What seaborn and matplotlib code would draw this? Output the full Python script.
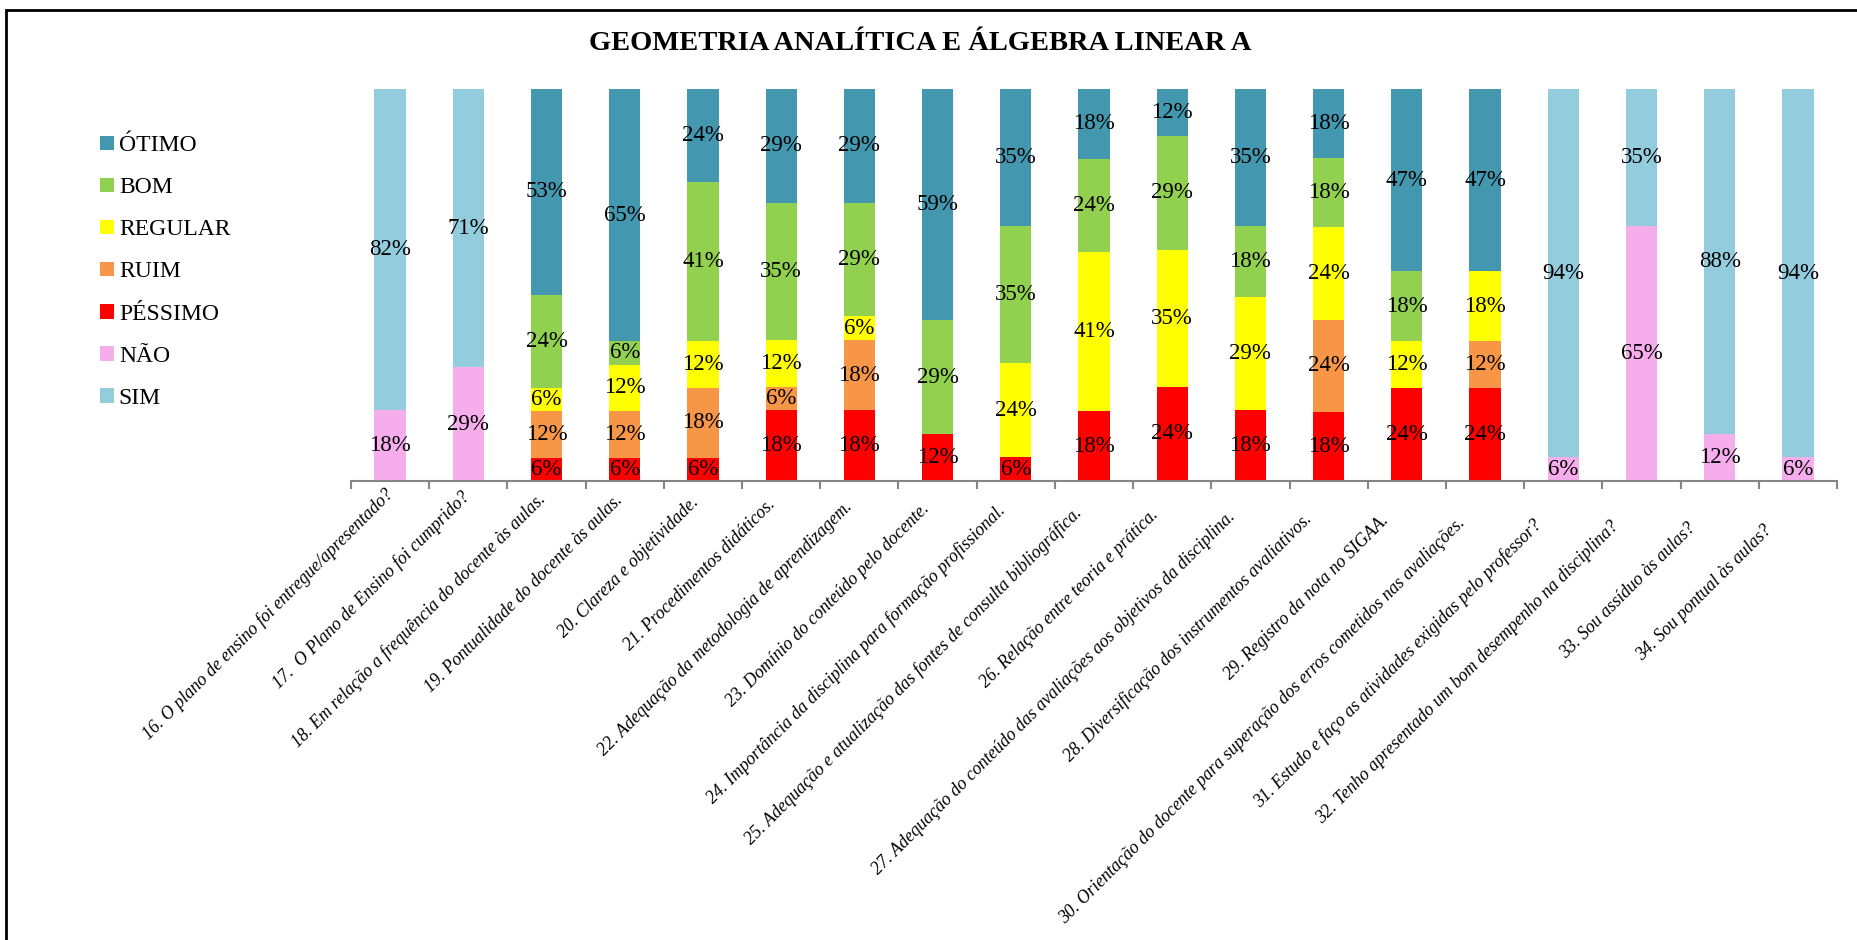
import numpy as np
import pandas as pd
import matplotlib
matplotlib.use("Agg")
import matplotlib.pyplot as plt
from matplotlib.patches import Rectangle, Patch
from matplotlib.transforms import ScaledTranslation
import seaborn as sns

# Questions (x categories)
questions = [
    "16. O plano de ensino foi entregue/apresentado?",
    "17.  O Plano de Ensino foi cumprido?",
    "18. Em relação a frequência do docente às aulas.",
    "19. Pontualidade do docente às aulas.",
    "20. Clareza e objetividade.",
    "21. Procedimentos didáticos.",
    "22. Adequação da metodologia de aprendizagem.",
    "23. Domínio do conteúdo pelo docente.",
    "24. Importância da disciplina para formação profissional.",
    "25. Adequação e atualização das fontes de consulta bibliográfica.",
    "26. Relação entre teoria e prática.",
    "27. Adequação do conteúdo das avaliações aos objetivos da disciplina.",
    "28. Diversificação dos instrumentos avaliativos.",
    "29. Registro da nota no SIGAA.",
    "30. Orientação do docente para superação dos erros cometidos nas avaliações.",
    "31. Estudo e faço as atividades exigidas pelo professor?",
    "32. Tenho apresentado um bom desempenho na disciplina?",
    "33. Sou assíduo às aulas?",
    "34. Sou pontual às aulas?",
]

# Answer shares (%) per question, one list per response option
nao     = [18, 29, 0, 0, 0, 0, 0, 0, 0, 0, 0, 0, 0, 0, 0, 6, 65, 12, 6]
pessimo = [0, 0, 6, 6, 6, 18, 18, 12, 6, 18, 24, 18, 18, 24, 24, 0, 0, 0, 0]
ruim    = [0, 0, 12, 12, 18, 6, 18, 0, 0, 0, 0, 0, 24, 0, 12, 0, 0, 0, 0]
regular = [0, 0, 6, 12, 12, 12, 6, 0, 24, 41, 35, 29, 24, 12, 18, 0, 0, 0, 0]
bom     = [0, 0, 24, 6, 41, 35, 29, 29, 35, 24, 29, 18, 18, 18, 0, 0, 0, 0, 0]
otimo   = [0, 0, 53, 65, 24, 29, 29, 59, 35, 18, 12, 35, 18, 47, 47, 0, 0, 0, 0]
sim     = [82, 71, 0, 0, 0, 0, 0, 0, 0, 0, 0, 0, 0, 0, 0, 94, 35, 88, 94]

series_names = ["NÃO", "PÉSSIMO", "RUIM", "REGULAR", "BOM", "ÓTIMO", "SIM"]
series_vals = [nao, pessimo, ruim, regular, bom, otimo, sim]
colors = {
    "ÓTIMO": "#4398AF",
    "BOM": "#92D050",
    "REGULAR": "#FFFF00",
    "RUIM": "#F79646",
    "PÉSSIMO": "#FF0000",
    "NÃO": "#F6ADEC",
    "SIM": "#93CDDD",
}
legend_order = ["ÓTIMO", "BOM", "REGULAR", "RUIM", "PÉSSIMO", "NÃO", "SIM"]

sns.set_theme(style="white")
plt.rcParams["font.family"] = ["Liberation Serif", "DejaVu Serif"]
plt.rcParams["text.color"] = "black"
plt.rcParams["xtick.color"] = "black"

W, H = 1858, 940
fig = plt.figure(figsize=(W / 100, H / 100), dpi=100)
fig.patch.set_facecolor("white")

ax_left, ax_right, ax_top, ax_bot = 351, 1837, 89, 481
ax = fig.add_axes([ax_left / W, 1 - ax_bot / H, (ax_right - ax_left) / W, (ax_bot - ax_top) / H])

vals = np.array(series_vals, dtype=float)
totals = vals.sum(axis=0)
heights = vals / totals * 100.0  # 100% stacked
bottoms = np.zeros(len(questions))

for name, raw, h in zip(series_names, vals, heights):
    df = pd.DataFrame({"q": questions, "h": h})
    sns.barplot(data=df, x="q", y="h", order=questions, bottom=bottoms,
                color=colors[name], saturation=1, width=0.4,
                edgecolor="none", linewidth=0, ax=ax)
    for i, (v, hh, b) in enumerate(zip(raw, h, bottoms)):
        if v > 0:
            ax.text(i, b + hh / 2, f"{int(v)}%", ha="center", va="center",
                    fontsize=16.5, color="black")
    bottoms = bottoms + h

ax.set_ylim(0, 100)
ax.set_xlim(-0.5, len(questions) - 0.5)
ax.set_xlabel("")
ax.set_ylabel("")
ax.set_yticks([])
for s in ["left", "top", "right"]:
    ax.spines[s].set_visible(False)
ax.spines["bottom"].set_color("#868686")
ax.spines["bottom"].set_linewidth(1.5)

# Category boundary ticks, labels at the centres
ax.set_xticks(np.arange(-0.5, len(questions), 1.0), minor=True)
ax.tick_params(axis="x", which="minor", length=6, width=1.5, color="#868686", bottom=True)
ax.tick_params(axis="x", which="major", length=0, pad=8)
ax.set_xticks(np.arange(len(questions)))
ax.set_xticklabels(questions, rotation=45, ha="right", va="center",
                   rotation_mode="anchor", fontsize=12.8, fontstyle="italic")
for i, lbl in enumerate(ax.get_xticklabels()):
    lbl.set_fontstyle("italic")
    # labels step slightly down-left along the axis
    lbl.set_transform(lbl.get_transform() +
                      ScaledTranslation(-1.6 * i / 100, -2.0 * i / 100, fig.dpi_scale_trans))

# Title
fig.text(920 / W, 1 - 43 / H, "GEOMETRIA ANALÍTICA E ÁLGEBRA LINEAR A",
         ha="center", va="center", fontsize=20.5, fontweight="bold", color="black")

# Legend
handles = [Patch(facecolor=colors[n], edgecolor="none") for n in legend_order]
fig.legend(handles, legend_order, loc="upper left",
           bbox_to_anchor=(91 / W, 1 - 126 / H), frameon=False,
           fontsize=17, handlelength=0.58, handleheight=0.58,
           handletextpad=0.2, labelspacing=0.89, borderaxespad=0)

# Outer frame
fig.patches.append(Rectangle((6 / W, -0.05), 1.1, 1 - 10 / H + 0.05,
                             transform=fig.transFigure, fill=False,
                             edgecolor="black", linewidth=2))

fig.savefig("out.png", dpi=100, facecolor="white")
